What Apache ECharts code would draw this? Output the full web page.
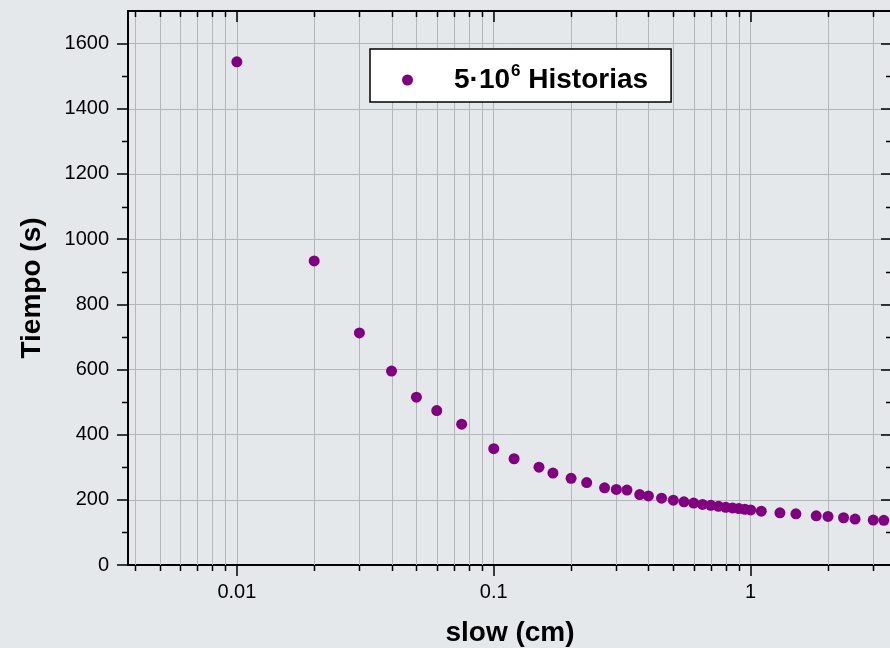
<!DOCTYPE html>
<html>
<head>
<meta charset="utf-8">
<script src="https://cdn.jsdelivr.net/npm/echarts@6/dist/echarts.min.js"></script>
<style>
html,body{margin:0;padding:0;background:#e4e8eb;}
#chart{width:890px;height:648px;}
</style>
</head>
<body>
<div id="chart"></div>
<script>
// slow (cm)
const slowCm = [0.01,0.02,0.03,0.04,0.05,0.06,0.075,0.1,0.12,0.15,0.17,0.2,0.23,0.27,0.3,0.33,0.37,0.4,0.45,0.5,0.55,0.6,0.65,0.7,0.75,0.8,0.85,0.9,0.95,1.0,1.1,1.3,1.5,1.8,2.0,2.3,2.55,3.0,3.3];
// Tiempo (s)
const tiempoS = [1544,933,712,595,515,474,432,357,326,300,282,266,253,237,232,230,216,212,205,199,194,190,186,183,180,177,175,173,171,169,165,160,157,151,149,145,141,138,137];
const seriesName = '5·10^6 Historias';
// minor tick positions on the log x axis
const xMinorTicks = [0.004,0.005,0.006,0.007,0.008,0.009,0.02,0.03,0.04,0.05,0.06,0.07,0.08,0.09,0.2,0.3,0.4,0.5,0.6,0.7,0.8,0.9,2,3];
// minor tick positions on the y axis
const yMinorTicks = [100,300,500,700,900,1100,1300,1500];

const FONT = '"Liberation Sans", Arial, Helvetica, sans-serif';
const GRIDC = '#b3b7bb';

const chart = echarts.init(document.getElementById('chart'), null, {renderer:'canvas'});

const xCommon = {
  type: 'log', logBase: 10, min: 0.00377, max: 3.55,
  axisLine: {show: true, onZero: false, lineStyle: {color: '#000', width: 2}},
};

const option = {
  backgroundColor: '#e4e8eb',
  animation: false,
  textStyle: {fontFamily: FONT},
  grid: {left: 128, right: -2, top: 11, bottom: 83, outerBoundsMode: 'none', containLabel: false},
  legend: {
    data: [seriesName],
    left: 370, top: 49,
    orient: 'horizontal',
    padding: [14, 23, 0, 32],
    backgroundColor: '#ffffff',
    borderColor: '#000000', borderWidth: 1.5, borderRadius: 0,
    icon: 'circle', itemWidth: 11, itemHeight: 11,
    selectedMode: false,
    formatter: function () { return '{a|5·10}{s|6}{b| Historias}'; },
    textStyle: {
      fontFamily: FONT,
      rich: {
        a: {fontSize: 28, fontWeight: 'bold', color: '#000', fontFamily: FONT, padding: [0,0,0,36], lineHeight: 34},
        s: {fontSize: 17, fontWeight: 'bold', color: '#000', fontFamily: FONT, verticalAlign: 'top', lineHeight: 34, padding: [0,0,22,1]},
        b: {fontSize: 28, fontWeight: 'bold', color: '#000', fontFamily: FONT, lineHeight: 34}
      }
    }
  },
  xAxis: [
    Object.assign({}, xCommon, {
      position: 'bottom',
      name: 'slow (cm)', nameLocation: 'middle', nameGap: 54,
      nameTextStyle: {fontSize: 28, fontWeight: 'bold', color: '#000', fontFamily: FONT},
      axisTick: {show: true, inside: false, length: 11, lineStyle: {color: '#000', width: 1.5}},
      axisLabel: {show: true, margin: 17, fontSize: 20, color: '#000', fontFamily: FONT,
        showMinLabel: false, showMaxLabel: false,
        formatter: function (v) { return String(parseFloat(Number(v).toPrecision(6))); }},
      splitLine: {show: true, lineStyle: {color: GRIDC, width: 1}}
    }),
    Object.assign({}, xCommon, {
      position: 'top',
      axisTick: {show: true, inside: true, length: 11, lineStyle: {color: '#000', width: 1.5}},
      axisLabel: {show: false},
      splitLine: {show: false}
    })
  ],
  yAxis: [
    {
      type: 'value', position: 'left', min: 0, max: 1700, interval: 200,
      name: 'Tiempo (s)', nameLocation: 'middle', nameGap: 82, nameRotate: 90,
      nameTextStyle: {fontSize: 28, fontWeight: 'bold', color: '#000', fontFamily: FONT},
      axisLine: {show: true, onZero: false, lineStyle: {color: '#000', width: 2}},
      axisTick: {show: true, inside: false, length: 11, lineStyle: {color: '#000', width: 1.5}},
      axisLabel: {show: true, margin: 19, fontSize: 20, color: '#000', fontFamily: FONT, showMaxLabel: false,
        formatter: function (v) { return String(v); }},
      splitLine: {show: true, lineStyle: {color: GRIDC, width: 1}}
    },
    {
      type: 'value', position: 'right', min: 0, max: 1700, interval: 200,
      axisLine: {show: true, onZero: false, lineStyle: {color: '#000', width: 2}},
      axisTick: {show: true, inside: true, length: 11, lineStyle: {color: '#000', width: 1.5}},
      axisLabel: {show: false},
      splitLine: {show: false}
    }
  ],
  series: [
    {
      type: 'custom', name: 'xminor', xAxisIndex: 0, yAxisIndex: 0, z: 1, silent: true,
      clip: false,
      data: xMinorTicks.map(v => [v, 0]),
      renderItem: function (params, api) {
        const cs = params.coordSys;
        const px = Math.round(api.coord([api.value(0), 0])[0]) + 0.5;
        const top = cs.y, bottom = cs.y + cs.height;
        return {type: 'group', children: [
          {type: 'line', shape: {x1: px, y1: top, x2: px, y2: bottom}, style: {stroke: GRIDC, lineWidth: 1}},
          {type: 'line', shape: {x1: px, y1: bottom, x2: px, y2: bottom + 6}, style: {stroke: '#000', lineWidth: 1.5}},
          {type: 'line', shape: {x1: px, y1: top, x2: px, y2: top + 6}, style: {stroke: '#000', lineWidth: 1.5}}
        ]};
      }
    },
    {
      type: 'custom', name: 'yminor', xAxisIndex: 0, yAxisIndex: 0, z: 1, silent: true,
      clip: false,
      data: yMinorTicks.map(v => [1, v]),
      renderItem: function (params, api) {
        const cs = params.coordSys;
        const py = Math.round(api.coord([1, api.value(1)])[1]) + 0.5;
        const left = cs.x, right = cs.x + cs.width;
        return {type: 'group', children: [
          {type: 'line', shape: {x1: left - 6, y1: py, x2: left, y2: py}, style: {stroke: '#000', lineWidth: 1.5}},
          {type: 'line', shape: {x1: right - 6, y1: py, x2: right, y2: py}, style: {stroke: '#000', lineWidth: 1.5}}
        ]};
      }
    },
    {
      type: 'scatter', name: seriesName, xAxisIndex: 0, yAxisIndex: 0, z: 5,
      symbol: 'circle', symbolSize: 11,
      itemStyle: {color: '#800080', opacity: 1},
      data: slowCm.map((x, i) => [x, tiempoS[i]])
    }
  ]
};
chart.setOption(option);
</script>
</body>
</html>
